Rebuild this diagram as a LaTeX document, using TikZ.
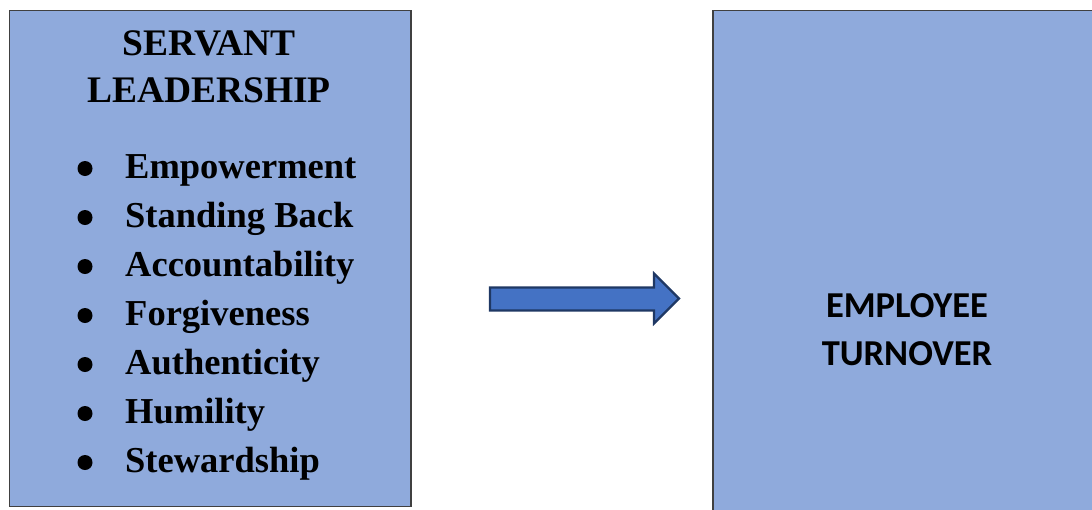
\documentclass[tikz,border=0pt]{standalone}
\usepackage{fontspec}
\setmainfont{Liberation Serif}
\newfontfamily\calfont{Carlito}
\definecolor{boxfill}{HTML}{8FAADC}
\definecolor{boxline}{HTML}{404040}
\definecolor{arrfill}{HTML}{4472C4}
\definecolor{arrline}{HTML}{1F3864}
\begin{document}
\begin{tikzpicture}[x=1pt,y=-1pt,
  panel/.style={draw=boxline,fill=boxfill,line width=1.3pt},
  headtxt/.style={anchor=base,inner sep=0pt,font=\fontsize{37.5}{40}\selectfont\bfseries},
  itemtxt/.style={anchor=base west,inner sep=0pt,font=\fontsize{36.5}{40}\selectfont\bfseries},
  bul/.style={circle,fill=black,inner sep=0pt,minimum size=15pt},
  turntxt/.style={anchor=base,inner sep=0pt,font=\fontsize{36.5}{40}\calfont\bfseries}]
\useasboundingbox (0,0) rectangle (1092,509);
\begin{scope}
\clip (0,0) rectangle (1092,509);
\draw[panel] (713,10.5) rectangle (1100,520);
\end{scope}
\draw[panel] (9.5,10.5) rectangle (411,506.5);
\node[headtxt] (t1) at (209,55) {SERVANT};
\node[headtxt] (t2) at (209,102) {LEADERSHIP};
\foreach \txt [count=\i from 0] in {Empowerment,Standing Back,Accountability,Forgiveness,Authenticity,Humility,Stewardship}{
  \node[bul] (b\i) at (85,168.5+49*\i) {};
  \node[itemtxt] (i\i) at (125,178+49*\i) {\txt};
}
\node[turntxt] (e1) at (907,317) {EMPLOYEE};
\node[turntxt] (e2) at (907,365) {TURNOVER};
\draw[fill=arrfill,draw=arrline,line width=2.2pt,line join=miter]
  (490,287.5) -- (654,287.5) -- (654,273.5) -- (679,298.5) -- (654,323.5) -- (654,310.5) -- (490,310.5) -- cycle;
\end{tikzpicture}
\end{document}
